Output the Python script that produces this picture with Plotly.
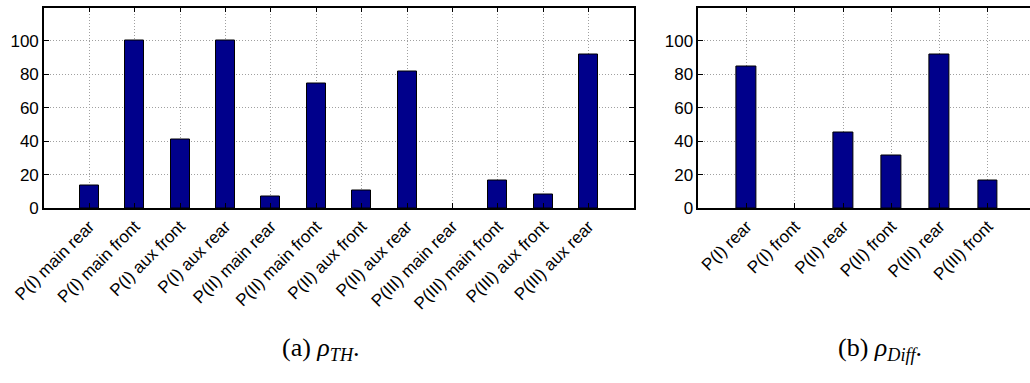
import plotly.graph_objects as go

# Data
labels_a = ["P(I) main rear", "P(I) main front", "P(I) aux front", "P(I) aux rear",
            "P(II) main rear", "P(II) main front", "P(II) aux front", "P(II) aux rear",
            "P(III) main rear", "P(III) main front", "P(III) aux front", "P(III) aux rear"]
values_a = [13.2, 100, 41, 100, 6.6, 74.3, 10.4, 81.6, 0, 16.4, 8.2, 91.6]

labels_b = ["P(I) rear", "P(I) front", "P(II) rear", "P(II) front", "P(III) rear", "P(III) front"]
values_b = [84.4, 0, 44.9, 31.5, 91.6, 16.6]

y_ticks = [0, 20, 40, 60, 80, 100]

W, H = 1030, 383
bar_color = "#00008B"
tick_font = dict(family="Liberation Sans", size=17, color="black")
xtick_font = dict(family="Liberation Sans", size=17, color="black")

pos_a = list(range(1, len(labels_a) + 1))
pos_b = list(range(1, len(labels_b) + 1))


def bar_lines(vals):
    return ["black" if v > 0 else "rgba(0,0,0,0)" for v in vals]


fig = go.Figure()
fig.add_trace(go.Bar(x=pos_a, y=values_a, width=0.42,
                     marker=dict(color=bar_color, line=dict(color=bar_lines(values_a), width=1)),
                     xaxis="x", yaxis="y", showlegend=False))
fig.add_trace(go.Bar(x=pos_b, y=values_b, width=0.41,
                     marker=dict(color=bar_color, line=dict(color=bar_lines(values_b), width=1)),
                     xaxis="x2", yaxis="y2", showlegend=False))

y_bot = (H - 208) / H
y_top = (H - 7.5) / H

grid = dict(showgrid=True, gridcolor="#a0a0a0", griddash="1px,2px", gridwidth=1)
common_x = dict(showline=True, linecolor="black", linewidth=1.6, ticks="inside", ticklen=5,
                tickcolor="black", tickangle=-45, tickfont=xtick_font, zeroline=False,
                automargin=False, **grid)
common_y = dict(showline=True, linecolor="black", linewidth=1.6, ticks="inside", ticklen=5,
                tickcolor="black", tickfont=tick_font, range=[0, 120], tickvals=y_ticks,
                zeroline=False, automargin=False, **grid)

cap_font = dict(family="Liberation Serif", size=26, color="black")

fig.update_layout(
    width=W, height=H,
    margin=dict(l=0, r=0, t=0, b=0, autoexpand=False),
    paper_bgcolor="white", plot_bgcolor="white",
    bargap=0,
    xaxis=dict(domain=[44 / W, 634 / W], range=[0, 13], tickvals=pos_a, ticktext=labels_a,
               mirror="ticks", anchor="y", **common_x),
    yaxis=dict(domain=[y_bot, y_top], mirror="ticks", anchor="x", **common_y),
    xaxis2=dict(domain=[698.4 / W, 1.0], range=[0, (W - 698.4) / 48.26], tickvals=pos_b,
                ticktext=labels_b, mirror="ticks", anchor="y2", **common_x),
    yaxis2=dict(domain=[y_bot, y_top], mirror=False, anchor="x2", **common_y),
    annotations=[
        dict(text="(a) <i>ρ</i><sub><i>TH</i></sub>.", x=280 / W, y=(H - 349) / H,
             xref="paper", yref="paper", xanchor="left", yanchor="middle",
             showarrow=False, font=cap_font),
        dict(text="(b) <i>ρ</i><sub><i>Diff</i></sub>.", x=836 / W, y=(H - 349) / H,
             xref="paper", yref="paper", xanchor="left", yanchor="middle",
             showarrow=False, font=cap_font),
    ],
)

fig.write_html("out.html")
